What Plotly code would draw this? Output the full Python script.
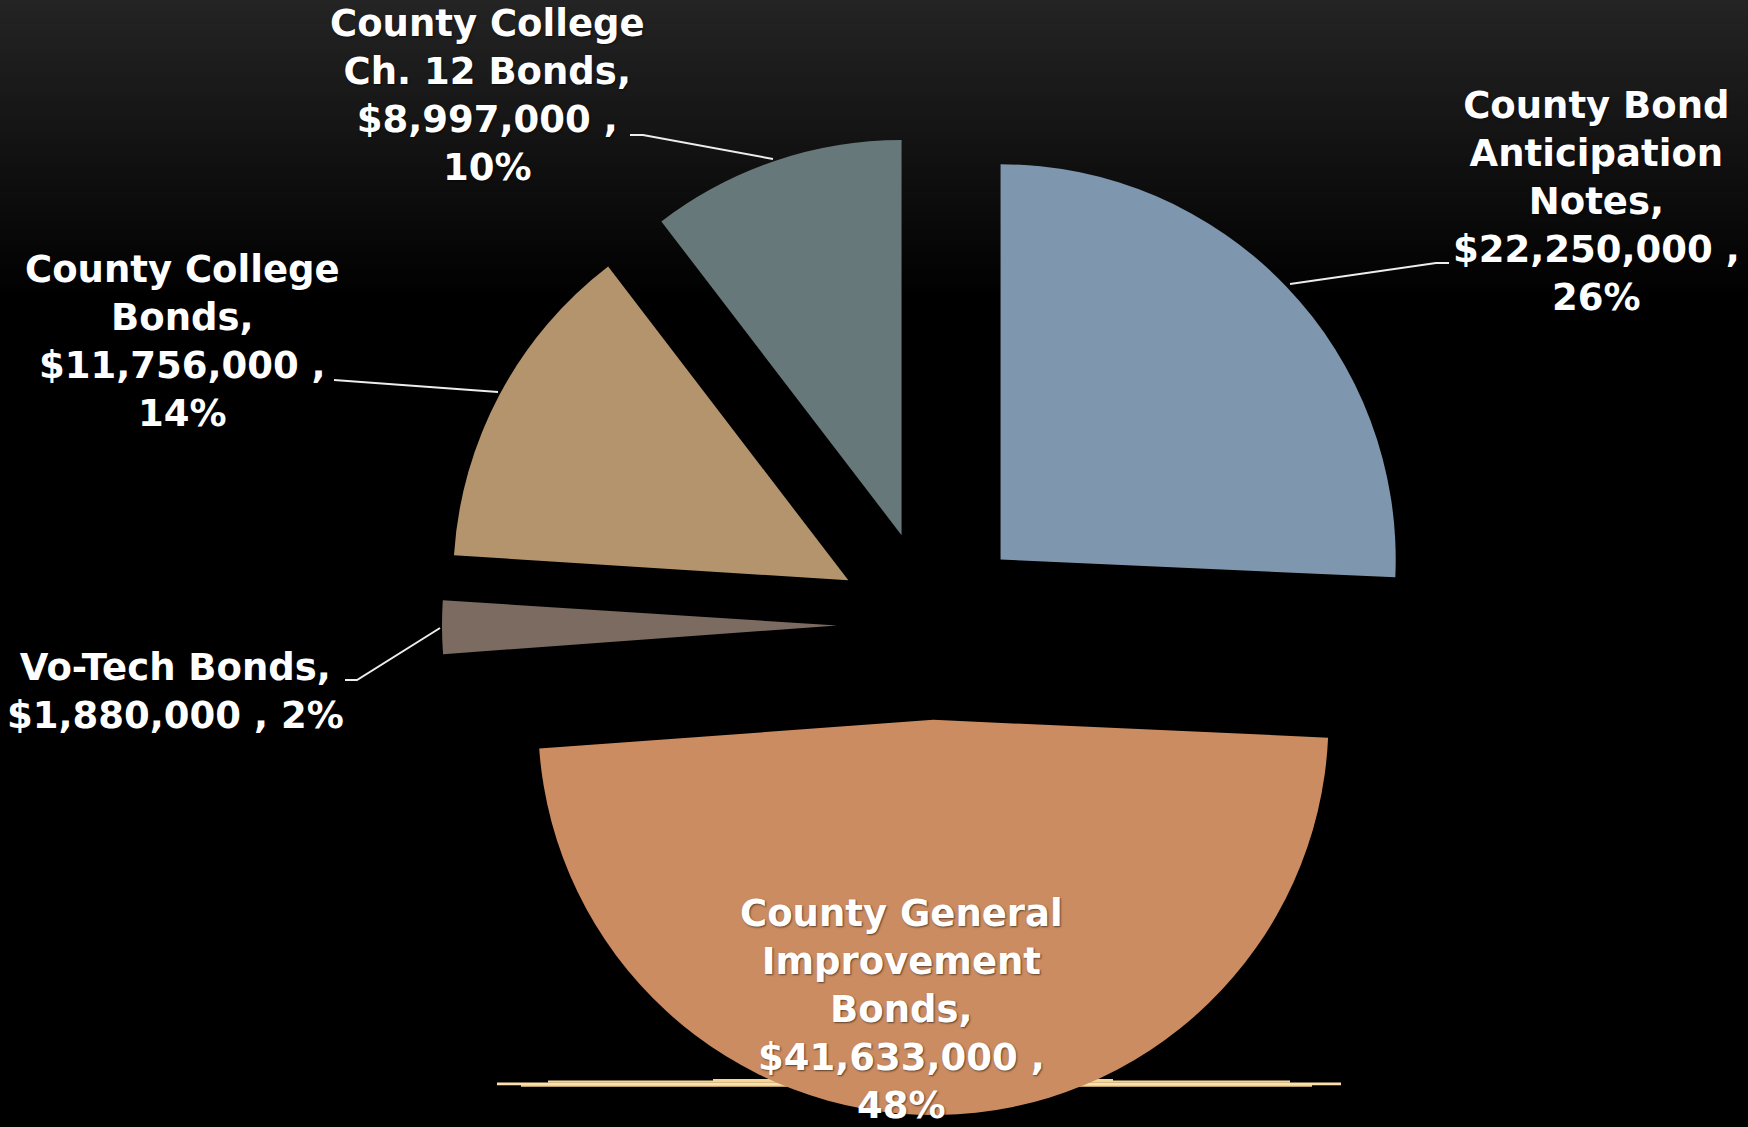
import plotly.graph_objects as go

# Outstanding county debt by category (clockwise from 12 o'clock)
labels = [
    "County Bond Anticipation Notes",
    "County General Improvement Bonds",
    "Vo-Tech Bonds",
    "County College Bonds",
    "County College Ch. 12 Bonds",
]
values = [22250000, 41633000, 1880000, 11756000, 8997000]
colors = ["#7F97AE", "#CC8C61", "#7B6B61", "#B4946D", "#667879"]

# Wrapped category names as they appear in the data labels
label_lines = [
    ["County Bond", "Anticipation", "Notes,"],
    ["County General", "Improvement", "Bonds,"],
    ["Vo-Tech Bonds,"],
    ["County College", "Bonds,"],
    ["County College", "Ch. 12 Bonds,"],
]
# Whether the percentage goes on its own line after the dollar amount
pct_on_new_line = [True, True, False, True, True]

W, H = 1748, 1127
PULL = 0.24

# Label block centres (pixels from top-left) and leader-line paths
label_pos = [(1596, 201), (901, 1009), (175, 691), (182, 342), (487, 96)]
leader_paths = [
    [(1290, 284), (1436, 263), (1449, 263)],
    None,
    [(345, 680), (357, 680), (440, 628)],
    [(334, 380), (498, 392)],
    [(630, 135), (643, 135), (773, 159)],
]

total = sum(values)

fig = go.Figure()
fig.add_trace(
    go.Pie(
        labels=labels,
        values=values,
        sort=False,
        direction="clockwise",
        rotation=0,
        pull=[PULL] * len(values),
        marker=dict(colors=colors, line=dict(width=0)),
        textinfo="none",
        hoverinfo="label+value+percent",
        domain=dict(x=[442 / W, 1422 / W], y=[1 - 1115 / H, 1 - 135 / H]),
    )
)


def px_x(x):
    return x / W


def px_y(y):
    return 1 - y / H


shapes = []

# Dark grey to black vertical fade at the top of the canvas
band = 6
for y0 in range(0, 300, band):
    mid = y0 + band / 2
    g = int(round(36 * (1 - mid / 300)))
    shapes.append(
        dict(
            type="rect", xref="paper", yref="paper", layer="below",
            x0=0, x1=1, y0=px_y(y0 + band), y1=px_y(y0),
            fillcolor=f"rgb({g},{g},{g})", line=dict(width=0),
        )
    )

# Light floor strokes passing behind the large slice
floor_strokes = [
    (497, 1341, 1082.5, 1085.2, "#FBE2AC"),
    (548, 1290, 1080.5, 1082.7, "#F6D598"),
    (521, 1312, 1085.0, 1086.8, "#F3CF8C"),
    (713, 1113, 1079.0, 1081.0, "#F6D598"),
]
for x0, x1, y0, y1, c in floor_strokes:
    shapes.append(
        dict(
            type="rect", xref="paper", yref="paper", layer="below",
            x0=px_x(x0), x1=px_x(x1), y0=px_y(y1), y1=px_y(y0),
            fillcolor=c, line=dict(width=0),
        )
    )

# Leader lines from labels to their slices
for pts in leader_paths:
    if not pts:
        continue
    d = "M " + " L ".join(f"{px_x(x):.5f},{px_y(y):.5f}" for x, y in pts)
    shapes.append(
        dict(
            type="path", xref="paper", yref="paper", layer="above",
            path=d, line=dict(color="#EDEDED", width=2),
        )
    )

annotations = []
for name_lines, v, newline, (cx, cy) in zip(label_lines, values, pct_on_new_line, label_pos):
    pct = f"{round(v / total * 100)}%"
    amount = f"${v:,} ,"
    if newline:
        lines = name_lines + [amount, pct]
    else:
        lines = name_lines + [f"{amount} {pct}"]
    annotations.append(
        dict(
            x=px_x(cx), y=px_y(cy), xref="paper", yref="paper",
            xanchor="center", yanchor="middle", align="center",
            text="<br>".join(lines), showarrow=False,
            font=dict(family="DejaVu Sans", size=37, color="#FFFFFF", weight="bold",
                      shadow="1px 1px 2px rgba(0,0,0,0.55)"),
        )
    )

fig.update_layout(
    width=W,
    height=H,
    margin=dict(l=0, r=0, t=0, b=0),
    paper_bgcolor="#000000",
    plot_bgcolor="#000000",
    showlegend=False,
    shapes=shapes,
    annotations=annotations,
)

fig.write_html("out.html")
